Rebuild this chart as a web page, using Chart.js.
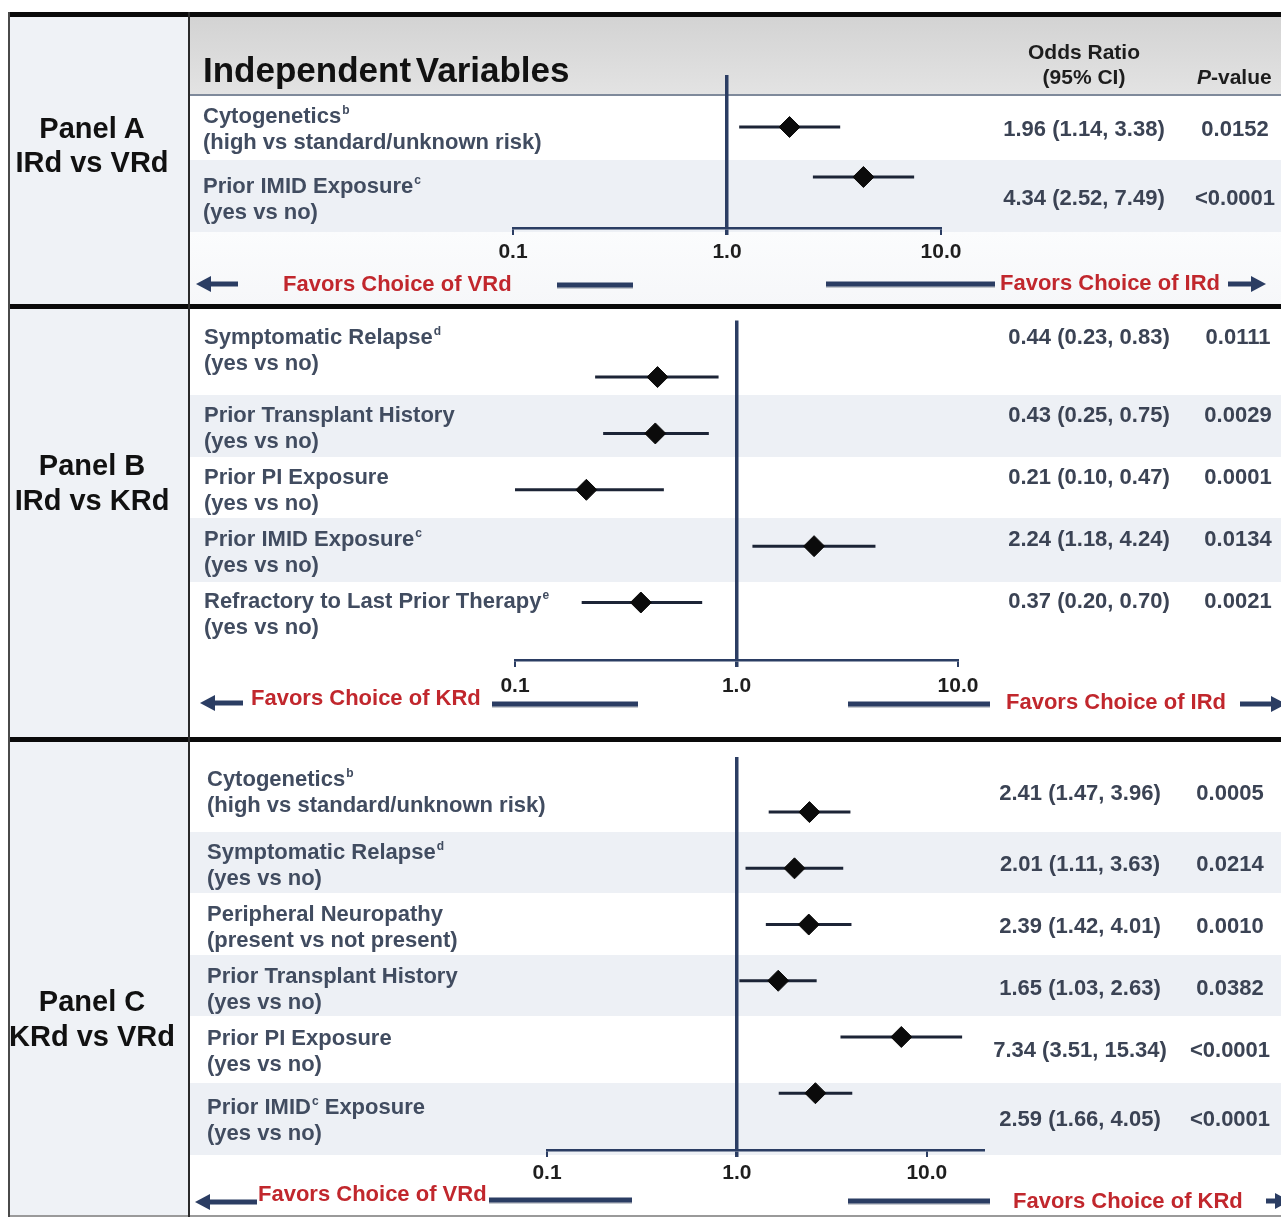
<!DOCTYPE html>
<html>
<head>
<meta charset="utf-8">
<script src="https://cdn.jsdelivr.net/npm/chart.js@4.4.1/dist/chart.umd.min.js"></script>
<style>
  html, body { margin: 0; padding: 0; background: #ffffff; }
  body { width: 1281px; height: 1217px; position: relative; overflow: hidden;
         font-family: "Liberation Sans", Arial, sans-serif; }
  .box { position: absolute; }
  .txt { position: absolute; white-space: nowrap; font-weight: bold; }
  .lbl { font-size: 22px; line-height: 26px; color: #414c60; }
  .val { font-size: 22px; line-height: 26px; color: #3b4354; text-align: center; }
  .pan { font-size: 29px; line-height: 35px; color: #111111; text-align: center; width: 184px; left: 0; }
  .fav { font-size: 22px; line-height: 26px; color: #c1272d; }
  .hdr { color: #1d1d1d; }
  sup.n { font-size: 12px; line-height: 0; position: relative; top: -1px; vertical-align: super; margin-left: 1px; }
  canvas { position: absolute; }
</style>
</head>
<body>
<div id="bg"></div>
<canvas id="chartA" width="1091" height="288" style="left:190px;top:17px;width:1091px;height:288px"></canvas>
<canvas id="chartB" width="1091" height="429" style="left:190px;top:309px;width:1091px;height:429px"></canvas>
<canvas id="chartC" width="1091" height="475" style="left:190px;top:742px;width:1091px;height:475px"></canvas>
<div id="fg"></div>
<svg id="arrows" width="1281" height="1217" style="position:absolute;left:0;top:0"></svg>

<script>
// ---- data ----
const axisTicks = [0.1, 1, 10];
const axisTickLabels = ['0.1', '1.0', '10.0'];

const panelTitles = ['Panel A', 'Panel B', 'Panel C'];
const panelComparisons = ['IRd vs VRd', 'IRd vs KRd', 'KRd vs VRd'];
const favorsLeft = ['VRd', 'KRd', 'VRd'];
const favorsRight = ['IRd', 'IRd', 'KRd'];

// Panel A: IRd vs VRd
const panelA_names = ['Cytogenetics^b', 'Prior IMID Exposure^c'];
const panelA_levels = ['(high vs standard/unknown risk)', '(yes vs no)'];
const panelA_or = [1.96, 4.34];
const panelA_lo = [1.14, 2.52];
const panelA_hi = [3.38, 7.49];
const panelA_p = ['0.0152', '<0.0001'];

// Panel B: IRd vs KRd
const panelB_names = ['Symptomatic Relapse^d', 'Prior Transplant History', 'Prior PI Exposure',
                      'Prior IMID Exposure^c', 'Refractory to Last Prior Therapy^e'];
const panelB_levels = ['(yes vs no)', '(yes vs no)', '(yes vs no)', '(yes vs no)', '(yes vs no)'];
const panelB_or = [0.44, 0.43, 0.21, 2.24, 0.37];
const panelB_lo = [0.23, 0.25, 0.10, 1.18, 0.20];
const panelB_hi = [0.83, 0.75, 0.47, 4.24, 0.70];
const panelB_p = ['0.0111', '0.0029', '0.0001', '0.0134', '0.0021'];

// Panel C: KRd vs VRd
const panelC_names = ['Cytogenetics^b', 'Symptomatic Relapse^d', 'Peripheral Neuropathy',
                      'Prior Transplant History', 'Prior PI Exposure', 'Prior IMID^c Exposure'];
const panelC_levels = ['(high vs standard/unknown risk)', '(yes vs no)', '(present vs not present)',
                       '(yes vs no)', '(yes vs no)', '(yes vs no)'];
const panelC_or = [2.41, 2.01, 2.39, 1.65, 7.34, 2.59];
const panelC_lo = [1.47, 1.11, 1.42, 1.03, 3.51, 1.66];
const panelC_hi = [3.96, 3.63, 4.01, 2.63, 15.34, 4.05];
const panelC_p = ['0.0005', '0.0214', '0.0010', '0.0382', '<0.0001', '<0.0001'];

// ---- layout ----
const NAVY = '#2b3d63';
const BAND = '#edf0f5';
const AXIS_BOX = 40;   // fixed height of the x-axis box (tick marks + labels)

const panels = [
  { canvas: 'chartA', names: panelA_names, levels: panelA_levels, or: panelA_or, lo: panelA_lo, hi: panelA_hi, p: panelA_p,
    xMax: 10, yMin: -1.04, yMax: 2.02, pad: { left: 323, right: 340, top: 58, bottom: 37 }, tickPad: 5,
    labelX: 203, labelY: [116, 186], valY: [129, 198], valX: 1084, pX: 1235,
    titleY: [128, 162],
    bands: [[160, 232]],
    favL: { tip: 196, tail: 238, y: 284, textX: 283, textY: 284, line: [557, 633, 285] },
    favR: { tip: 1266, tail: 1228, y: 284, textX: 1000, textY: 283, line: [826, 995, 284] } },
  { canvas: 'chartB', names: panelB_names, levels: panelB_levels, or: panelB_or, lo: panelB_lo, hi: panelB_hi, p: panelB_p,
    xMax: 10, yMin: -1.004, yMax: 5.02, pad: { left: 325, right: 323, top: 9, bottom: 38 }, tickPad: 7,
    labelX: 204, labelY: [337, 415, 477, 539, 601], valY: [337, 415, 477, 539, 601], valX: 1089, pX: 1238,
    titleY: [465, 500],
    bands: [[395, 457], [518, 582]],
    favL: { tip: 200, tail: 243, y: 703, textX: 251, textY: 698, line: [492, 638, 704] },
    favR: { tip: 1286, tail: 1240, y: 704, textX: 1006, textY: 702, line: [848, 990, 704] } },
  { canvas: 'chartC', names: panelC_names, levels: panelC_levels, or: panelC_or, lo: panelC_lo, hi: panelC_hi, p: panelC_p,
    xMax: 20, yMin: -0.98, yMax: 6.01, pad: { left: 357, right: 297, top: 15, bottom: 27 }, tickPad: 4,
    labelX: 207, labelY: [779, 852, 914, 976, 1038, 1107], valY: [793, 864, 926, 988, 1050, 1119], valX: 1080, pX: 1230,
    titleY: [1001, 1036],
    bands: [[832, 893], [955, 1016], [1083, 1155]],
    favL: { tip: 195, tail: 257, y: 1202, textX: 258, textY: 1194, line: [489, 632, 1200] },
    favR: { tip: 1290, tail: 1266, y: 1201, textX: 1013, textY: 1201, line: [848, 990, 1201] } }
];

// ---- static frame and background ----
const bg = document.getElementById('bg');
const fg = document.getElementById('fg');
function rect(parent, x, y, w, h, color, extra) {
  const d = document.createElement('div');
  d.className = 'box';
  d.style.cssText = `left:${x}px;top:${y}px;width:${w}px;height:${h}px;background:${color};` + (extra || '');
  parent.appendChild(d);
  return d;
}
function text(parent, cls, html, x, y, extra) {
  const d = document.createElement('div');
  d.className = 'txt ' + cls;
  d.innerHTML = html;
  d.style.cssText = `left:${x}px;top:${y}px;` + (extra || '');
  parent.appendChild(d);
  return d;
}
const sup = s => s.replace(/\^(\w)/g, '<sup class="n">$1</sup>');

// left column shading
rect(bg, 10, 15, 179, 1202, '#eff2f6');
// header band of panel A
rect(bg, 190, 17, 1091, 78, 'linear-gradient(#d3d3d3, #e3e3e3)');
rect(bg, 190, 94, 1091, 2, '#7f8a9b');
// light area below panel A rows
rect(bg, 190, 232, 1091, 73, 'linear-gradient(#fbfcfd, #f6f7f9)');
panels.forEach(p => p.bands.forEach(b => rect(bg, 190, b[0], 1091, b[1] - b[0], BAND)));

// frame lines
rect(fg, 8, 12, 1273, 5, '#0a0a0a');
rect(fg, 8, 304, 1273, 5, '#0a0a0a');
rect(fg, 8, 737, 1273, 5, '#0a0a0a');
rect(fg, 8, 1215, 1273, 2, '#9a9a9a');
rect(fg, 8, 12, 2, 1205, '#4a4a4a');
rect(fg, 188, 12, 2, 1205, '#2a2a2a');

// header text
text(fg, 'hdr', 'Independent&nbsp;Variables', 203, 50, 'font-size:35px;line-height:40px;word-spacing:-5px;color:#111;');
text(fg, 'hdr', 'Odds Ratio', 1084, 39, 'font-size:21px;line-height:26px;transform:translateX(-50%);');
text(fg, 'hdr', '(95% CI)', 1084, 64, 'font-size:21px;line-height:26px;transform:translateX(-50%);');
text(fg, 'hdr', '<i>P</i>-value', 1197, 64, 'font-size:21px;line-height:26px;');

// ---- arrows and favour lines ----
const svg = document.getElementById('arrows');
function svgEl(tag, attrs) {
  const e = document.createElementNS('http://www.w3.org/2000/svg', tag);
  for (const k in attrs) e.setAttribute(k, attrs[k]);
  svg.appendChild(e);
  return e;
}
function arrow(tip, tail, y) {
  const dir = tail > tip ? 1 : -1;
  const headEnd = tip + dir * 15;
  svgEl('line', { x1: headEnd, y1: y, x2: tail, y2: y, stroke: NAVY, 'stroke-width': 5 });
  svgEl('polygon', { points: `${tip},${y} ${headEnd},${y - 8} ${headEnd},${y + 8}`, fill: NAVY });
}
function hline(x1, x2, y) {
  svgEl('line', { x1, y1: y + 1.5, x2, y2: y + 1.5, stroke: 'rgba(40,50,70,0.25)', 'stroke-width': 5 });
  svgEl('line', { x1, y1: y, x2, y2: y, stroke: NAVY, 'stroke-width': 5 });
}

// ---- panel text and charts ----
const fmt = v => v.toFixed(2);

panels.forEach((p, k) => {
  text(fg, 'pan', panelTitles[k], 0, p.titleY[0] - 17.5);
  text(fg, 'pan', panelComparisons[k], 0, p.titleY[1] - 17.5);

  p.names.forEach((name, i) => {
    text(fg, 'lbl', sup(name), p.labelX, p.labelY[i] - 13);
    text(fg, 'lbl', p.levels[i], p.labelX, p.labelY[i] + 13);
    text(fg, 'val', `${fmt(p.or[i])} (${fmt(p.lo[i])}, ${fmt(p.hi[i])})`, p.valX, p.valY[i] - 13, 'transform:translateX(-50%);');
    text(fg, 'val', p.p[i], p.pX, p.valY[i] - 13, 'transform:translateX(-50%);');
  });

  text(fg, 'fav', `Favors Choice of ${favorsLeft[k]}`, p.favL.textX, p.favL.textY - 13);
  text(fg, 'fav', `Favors Choice of ${favorsRight[k]}`, p.favR.textX, p.favR.textY - 13);
  arrow(p.favL.tip, p.favL.tail, p.favL.y);
  arrow(p.favR.tip, p.favR.tail, p.favR.y);
  hline(p.favL.line[0], p.favL.line[1], p.favL.line[2]);
  hline(p.favR.line[0], p.favR.line[1], p.favR.line[2]);

  // confidence interval segments, one per row
  const ciSets = p.or.map((v, i) => ({
    data: [{ x: p.lo[i], y: i }, { x: p.hi[i], y: i }],
    showLine: true, borderColor: '#1c2436', borderWidth: 3,
    pointRadius: 0, clip: false, order: 2
  }));
  // odds-ratio point estimates
  const estSet = {
    data: p.or.map((v, i) => ({ x: v, y: i })),
    pointStyle: 'rectRot', pointRadius: 10.5,
    backgroundColor: '#0b0b0b', borderColor: '#0b0b0b', borderWidth: 1,
    clip: false, order: 1
  };

  new Chart(document.getElementById(p.canvas), {
    type: 'scatter',
    data: { datasets: [...ciSets, estSet] },
    options: {
      responsive: false, animation: false, devicePixelRatio: 1,
      layout: { padding: p.pad },
      plugins: { legend: { display: false }, tooltip: { enabled: false } },
      scales: {
        x: {
          type: 'logarithmic', position: 'bottom', min: 0.1, max: p.xMax,
          afterBuildTicks: s => { s.ticks = axisTicks.map(v => ({ value: v })); },
          afterFit: s => { s.height = AXIS_BOX; s.paddingLeft = 0; s.paddingRight = 0; },
          ticks: {
            autoSkip: false, maxRotation: 0, padding: p.tickPad, color: '#1e1e1e',
            font: { family: 'Liberation Sans', size: 21, weight: 'bold' },
            callback: (v, i) => axisTickLabels[i]
          },
          grid: {
            drawOnChartArea: true, drawTicks: true, tickLength: 7,
            color: c => (c.tick && c.tick.value === 1) ? NAVY : 'rgba(0,0,0,0)',
            lineWidth: c => (c.tick && c.tick.value === 1) ? 3.5 : 2,
            tickColor: NAVY,
            tickWidth: c => (c.tick && c.tick.value === 1) ? 3.5 : 2
          },
          border: { display: true, color: NAVY, width: 2.5 }
        },
        y: { type: 'linear', display: false, reverse: true, min: p.yMin, max: p.yMax }
      }
    }
  });
});
</script>
</body>
</html>
